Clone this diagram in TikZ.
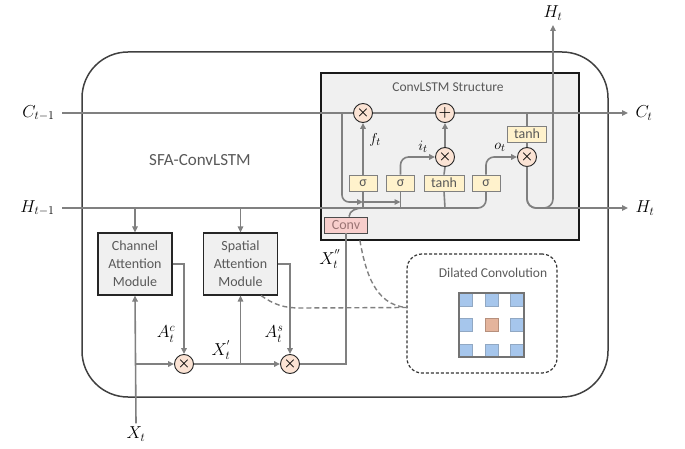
\documentclass[tikz,border=0pt]{standalone}
\usepackage{amsmath,amssymb}
\usepackage{fontspec}
\setmainfont{Carlito}
\usepackage{xcolor}
\usepackage{tikz}
\usetikzlibrary{arrows.meta,positioning,calc}

\definecolor{linegray}{HTML}{808080}
\definecolor{txtgray}{HTML}{595959}
\definecolor{gatefill}{HTML}{FFF2CC}
\definecolor{opfill}{HTML}{FBE3D4}
\definecolor{convfill}{HTML}{F8CECC}
\definecolor{convtxt}{HTML}{9A7474}
\definecolor{modfill}{HTML}{F0F0F0}
\definecolor{cellblue}{HTML}{A6C6EC}
\definecolor{cellred}{HTML}{E4B49C}

\begin{document}
\begin{tikzpicture}[x=1pt,y=-1pt,
  line/.style={draw=linegray,line width=1.6pt},
  arr/.style={line,-{Triangle[length=6pt,width=5.5pt]}},
  dashline/.style={draw=linegray,line width=1.4pt,dash pattern=on 5pt off 3pt},
  gate/.style={draw=linegray,fill=gatefill,line width=0.8pt,minimum width=28pt,
               minimum height=16pt,inner sep=1pt,text=txtgray,
               font=\fontsize{14}{14}\selectfont},
  op/.style={circle,draw=black!85,fill=opfill,line width=0.9pt,minimum size=19pt,
             inner sep=0pt,font=\fontsize{15}{15}\selectfont},
  module/.style={draw=black!85,fill=modfill,line width=1.1pt,minimum width=74pt,
                 minimum height=62pt,align=center,inner sep=1pt,text=txtgray,
                 font=\fontsize{14}{18}\selectfont},
  lbl/.style={font=\fontsize{18.5}{18.5}\selectfont},
  slbl/.style={font=\fontsize{15}{15}\selectfont},
  title/.style={text=txtgray,font=\fontsize{13.5}{13.5}\selectfont},
  cell/.style={fill=cellblue,draw=cellblue!80!black!90,line width=0.4pt,minimum size=13pt,inner sep=0pt}
]
\useasboundingbox (0,0) rectangle (685,449);

\draw[draw=black!75,line width=1.5pt,rounded corners=46pt] (82,52) rectangle (608,397);
\node[text=txtgray,font=\fontsize{17}{17}\selectfont] (sfa) at (200,160) {SFA-ConvLSTM};

\node[draw=black!90,fill=modfill,line width=1.6pt,minimum width=258pt,minimum height=167pt,
      inner sep=0pt] (lstm) at (450,156.5) {};
\node[title] (lstmt) at (448,87) {ConvLSTM Structure};

\coordinate (cin) at (62,113);
\coordinate (cout) at (628,113);
\coordinate (hin) at (62,208);
\coordinate (hout) at (628,208);
\coordinate (hup) at (553,25);
\coordinate (cp) at (342,113);
\coordinate (pk) at (342,202);

\node[lbl,anchor=east] (cprev) at (58,113) {$C_{t-1}$};
\node[lbl,anchor=east] (hprev) at (58,208) {$H_{t-1}$};
\node[lbl,anchor=west] (cnext) at (632,113) {$C_t$};
\node[lbl,anchor=west] (hnext) at (632,208) {$H_t$};
\node[lbl] (htop) at (553,13) {$H_t$};

\node[op] (fx) at (363,113) {$\boldsymbol{\times}$};
\node[op] (plus) at (445,113) {$\boldsymbol{+}$};
\node[op] (ix) at (445,157) {$\boldsymbol{\times}$};
\node[op] (ox) at (527,157) {$\boldsymbol{\times}$};

\node[gate] (sf) at (363,183) {σ};
\node[gate] (si) at (400.5,183) {σ};
\node[gate,minimum width=40pt] (tg) at (444,183) {tanh};
\node[gate] (so) at (486,183) {σ};
\node[gate,minimum width=39pt] (tc) at (527,134) {tanh};
\node[gate,fill=convfill,draw=black!70,minimum width=43pt,text=convtxt] (conv) at (346,225) {Conv};

\node[slbl] (ft) at (375,140) {$f_t$};
\node[slbl] (it) at (423,147) {$i_t$};
\node[slbl] (ot) at (500,147) {$o_t$};

\draw[line] (cin) -- (fx.west);
\draw[line] (fx.east) -- (plus.west);
\draw[arr] (plus.east) -- (cout);
\draw[line,rounded corners=8pt] (hin) -| (so.south);

\draw[line] (sf.south |- hin) -- (sf.south);
\draw[arr] (sf.north) -- (fx.south);
\draw[line] (si.south |- hin) -- (si.south);
\draw[arr,rounded corners=8pt] (si.north) |- (ix.west);
\draw[line] (ix.south |- hin) -- (tg.south);
\draw[line] (tg.north) -- (ix.south);
\draw[arr] (ix.north) -- (plus.south);
\draw[arr,rounded corners=8pt] (so.north) |- (ox.west);

\draw[arr,rounded corners=7pt] (cp) |- (sf.south |- pk);
\draw[arr] (sf.south |- pk) -- (si.south |- pk);

\draw[line] (tc.north |- cin) -- (tc.north);
\draw[line] (tc.south) -- (ox.north);
\draw[arr,rounded corners=9pt] (ox.south) |- (hout);
\draw[arr,rounded corners=9pt] (ox.south) |- (hup |- hin) -- (hup);

\draw[line] ([xshift=3pt]conv.north) to[out=85,in=180] (sf.south |- hin);

\node[module] (cam) at (135,264) {Channel\\Attention\\Module};
\node[module] (sam) at (240.5,264) {Spatial\\Attention\\Module};
\node[op] (cx) at (184,364) {$\boldsymbol{\times}$};
\node[op] (sx) at (290,364) {$\boldsymbol{\times}$};
\node[lbl] (xt) at (136,434) {$X_t$};

\draw[arr] (cam.north |- hin) -- (cam.north);
\draw[arr] (sam.north |- hin) -- (sam.north);
\draw[arr] (xt.north) -- (cam.south);
\draw[arr] (cam.south |- cx) -- (cx.west);
\draw[arr] (cam.east) -| (cx.north);
\draw[arr] (cx.east) -- (sx.west);
\draw[arr] (sam.south |- cx) -- (sam.south);
\draw[arr] (sam.east) -| (sx.north);
\draw[line] (sx.east) -| (conv.south);

\node[lbl] (ac) at (166,334) {$A_t^c$};
\node[lbl] (xp) at (221,350) {$X_t^{'}$};
\node[lbl] (as) at (274,334) {$A_t^s$};
\node[lbl] (xpp) at (330,259) {$X_t^{''}$};

\node[draw=black!80,line width=1.2pt,dash pattern=on 3pt off 2pt,rounded corners=15pt,
      minimum width=150pt,minimum height=119pt,inner sep=0pt] (dil) at (482,313.5) {};
\node[title] (dilt) at (493,273) {Dilated Convolution};
\node[draw=none,fill=white,minimum size=64pt,inner sep=0pt] (grid) at (491.5,325) {};
\foreach \dx in {-25.5,0,25.5}
  \foreach \dy in {-25.5,0,25.5}
    \node[cell] at ($(grid)+(\dx,\dy)$) {};
\node[cell,fill=cellred,draw=cellred!80!black] (mid) at (grid) {};
\draw[draw=black!55,line width=1.8pt] (grid.north west) rectangle (grid.south east);

\draw[dashline] ([xshift=-8pt,yshift=-7pt]conv.south east) to[out=-80,in=175] ([yshift=6pt]dil.west);
\coordinate (dj) at (300,308);
\draw[dashline] ([xshift=-17pt]sam.south east) to[out=-35,in=180] (dj) -- ([yshift=6pt]dil.west);
\end{tikzpicture}
\end{document}
